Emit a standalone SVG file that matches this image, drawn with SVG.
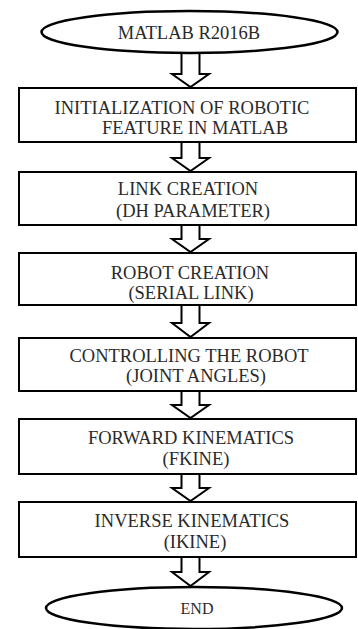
<svg xmlns="http://www.w3.org/2000/svg" width="358" height="629" viewBox="0 0 358 629">
  <style>
    .term { fill: #ffffff; stroke: #000000; stroke-width: 2.5; }
    .box { fill: #ffffff; stroke: #000000; stroke-width: 2; }
    .arrow { fill: #ffffff; stroke: #000000; stroke-width: 2; stroke-linejoin: miter; }
    .lbl { font-family: "Liberation Serif", "Times New Roman", "DejaVu Serif", serif; font-size: 18.5px; fill: #2a2a2a; text-anchor: middle; }
  </style>
  <rect width="358" height="629" fill="#ffffff"/>

  <!-- connectors: hollow block arrows -->
  <g id="connectors">
    <path class="arrow" d="M181.5,54 V74 H172 L190.5,87 L209,74 H199.5 V54"/>
    <path class="arrow" d="M181.5,143 V158 H172 L190.5,171 L209,158 H199.5 V143"/>
    <path class="arrow" d="M181.5,226 V239 H172 L190.5,252 L209,239 H199.5 V226"/>
    <path class="arrow" d="M181.5,306 V323 H172 L190.5,337 L209,323 H199.5 V306"/>
    <path class="arrow" d="M181.5,392 V405 H172 L190.5,418 L209,405 H199.5 V392"/>
    <path class="arrow" d="M181.5,475 V488 H172 L190.5,501 L209,488 H199.5 V475"/>
    <path class="arrow" d="M181.5,558 V572 H172 L190.5,586 L209,572 H199.5 V558"/>
  </g>

  <g id="start">
    <ellipse class="term" cx="189.5" cy="32" rx="148" ry="21"/>
    <text class="lbl" x="189" y="39">MATLAB R2016B</text>
  </g>

  <g id="init">
    <rect class="box" x="19" y="88" width="337" height="54"/>
    <text class="lbl" x="182" y="113.5">INITIALIZATION  OF ROBOTIC</text>
    <text class="lbl" x="195" y="133.5">FEATURE IN MATLAB</text>
  </g>

  <g id="link">
    <rect class="box" x="19" y="172" width="337" height="53"/>
    <text class="lbl" x="188" y="194.5">LINK CREATION</text>
    <text class="lbl" x="193" y="216.5">(DH PARAMETER)</text>
  </g>

  <g id="robot">
    <rect class="box" x="19" y="253" width="337" height="52"/>
    <text class="lbl" x="190" y="278.5">ROBOT CREATION</text>
    <text class="lbl" x="191" y="298.5">(SERIAL LINK)</text>
  </g>

  <g id="control">
    <rect class="box" x="19" y="338" width="337" height="53"/>
    <text class="lbl" x="189" y="362">CONTROLLING  THE ROBOT</text>
    <text class="lbl" x="196" y="382">(JOINT ANGLES)</text>
  </g>

  <g id="fkine">
    <rect class="box" x="19" y="419" width="337" height="55"/>
    <text class="lbl" x="191" y="443.5">FORWARD KINEMATICS</text>
    <text class="lbl" x="196" y="465">(FKINE)</text>
  </g>

  <g id="ikine">
    <rect class="box" x="19" y="502" width="337" height="55"/>
    <text class="lbl" x="192" y="526.5">INVERSE KINEMATICS</text>
    <text class="lbl" x="195" y="548">(IKINE)</text>
  </g>

  <g id="end">
    <ellipse class="term" cx="194" cy="608" rx="148" ry="21"/>
    <text class="lbl" x="197" y="614" style="font-size:16px">END</text>
  </g>
</svg>
